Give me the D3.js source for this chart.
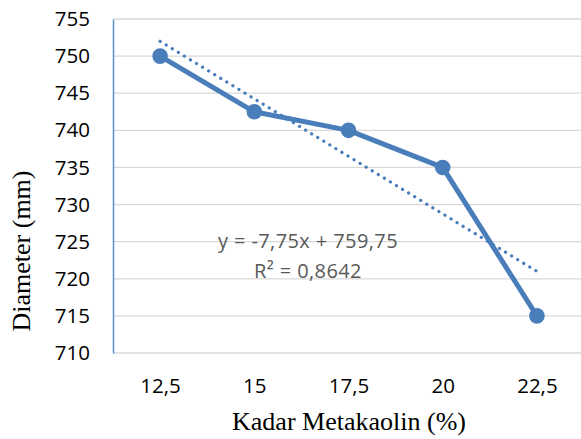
<!DOCTYPE html>
<html lang="en">
<head>
<meta charset="utf-8">
<title>Diameter vs Kadar Metakaolin</title>
<script src="https://cdn.jsdelivr.net/npm/d3@7"></script>
<style>
  body { margin: 0; background: #fff; }
</style>
</head>
<body>
<script>
var categories = ["12,5", "15", "17,5", "20", "22,5"];
var diameter = [750, 742.5, 740, 735, 715];
var yTicks = [710, 715, 720, 725, 730, 735, 740, 745, 750, 755];
var trendSlope = -7.75, trendIntercept = 759.75;
var trendLabel = ["y = -7,75x + 759,75", "R\u00b2 = 0,8642"];

var width = 581, height = 439;
var margin = {top: 19, left: 113, bottom: 86, right: -3};

var svg = d3.select("body").append("svg")
  .attr("width", width).attr("height", height);

var x = d3.scalePoint()
  .domain(categories)
  .range([margin.left, width - margin.right])
  .padding(0.5);

var y = d3.scaleLinear()
  .domain([710, 755])
  .range([height - margin.bottom, margin.top]);

// gridlines
svg.append("g").selectAll("line")
  .data(yTicks)
  .enter().append("line")
  .attr("x1", margin.left).attr("x2", width)
  .attr("y1", function(d){ return y(d); })
  .attr("y2", function(d){ return y(d); })
  .attr("stroke", "#d9d9d9")
  .attr("stroke-width", 1.3);

// y axis
var yAxis = d3.axisLeft(y).tickValues(yTicks).tickSize(0).tickPadding(23);
var gy = svg.append("g")
  .attr("transform", "translate(" + margin.left + ",0)")
  .call(yAxis);
gy.select(".domain").attr("stroke", "#5b8fd0").attr("stroke-width", 1.5);
gy.selectAll("text")
  .attr("font-family", "'Open Sans', sans-serif")
  .attr("font-size", 20.5)
  .attr("fill", "#000");

// x axis
var xAxis = d3.axisBottom(x).tickSize(0).tickPadding(25);
var gx = svg.append("g")
  .attr("transform", "translate(0," + y(710) + ")")
  .call(xAxis);
gx.select(".domain").remove();
gx.selectAll("text")
  .attr("font-family", "'Open Sans', sans-serif")
  .attr("font-size", 20.5)
  .attr("fill", "#000");

// trendline
var trendData = categories.map(function(c, i){ return [c, trendSlope * (i + 1) + trendIntercept]; });
var first = trendData[0], last = trendData[trendData.length - 1];
svg.append("line")
  .attr("x1", x(first[0])).attr("y1", y(first[1]))
  .attr("x2", x(last[0])).attr("y2", y(last[1]))
  .attr("stroke", "#4a7ebb")
  .attr("stroke-width", 3.2)
  .attr("stroke-linecap", "round")
  .attr("stroke-dasharray", "0.1 7");

// data line
var line = d3.line()
  .x(function(d, i){ return x(categories[i]); })
  .y(function(d){ return y(d); });

svg.append("path")
  .datum(diameter)
  .attr("d", line)
  .attr("fill", "none")
  .attr("stroke", "#4a7ebb")
  .attr("stroke-width", 5)
  .attr("stroke-linejoin", "round");

svg.selectAll(".dot")
  .data(diameter)
  .enter().append("circle")
  .attr("class", "dot")
  .attr("cx", function(d, i){ return x(categories[i]); })
  .attr("cy", function(d){ return y(d); })
  .attr("r", 7.8)
  .attr("fill", "#4a7ebb");

// trend equation
svg.append("g").selectAll("text")
  .data(trendLabel)
  .enter().append("text")
  .attr("x", 308)
  .attr("y", function(d, i){ return 248 + i * 30; })
  .attr("text-anchor", "middle")
  .attr("font-family", "'Open Sans', sans-serif")
  .attr("font-size", 20)
  .attr("letter-spacing", 0.4)
  .attr("fill", "#595959")
  .text(function(d){ return d; });

// axis titles
svg.append("text")
  .attr("x", 349).attr("y", 430)
  .attr("text-anchor", "middle")
  .attr("font-family", "'Liberation Serif', 'Times New Roman', serif")
  .attr("font-size", 26)
  .text("Kadar Metakaolin (%)");

svg.append("text")
  .attr("transform", "translate(30," + 251 + ") rotate(-90)")
  .attr("text-anchor", "middle")
  .attr("font-family", "'Liberation Serif', 'Times New Roman', serif")
  .attr("font-size", 26)
  .text("Diameter (mm)");
</script>
</body>
</html>
